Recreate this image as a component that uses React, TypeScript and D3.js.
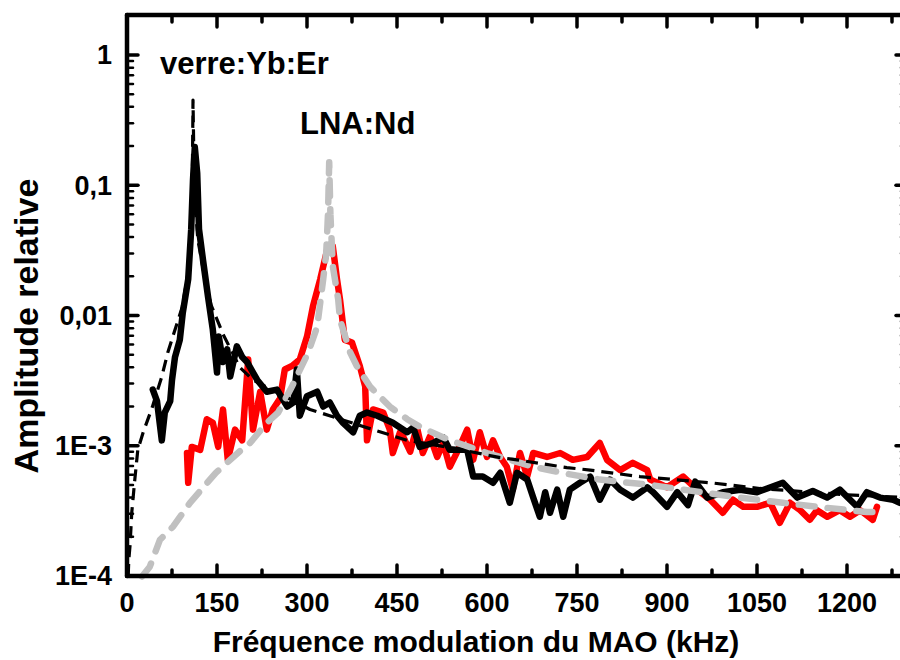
import React from "react";
import * as d3 from "d3";

// Frequencies in kHz, amplitudes relative
const verreMeasured: [number, number][] = [
  [43, 2.7e-3], [50, 2.2e-3], [58, 1.1e-3], [63, 1.8e-3], [72, 2.2e-3], [75, 3.2e-3], [80, 4.8e-3],
  [88, 6.5e-3], [93, 0.0105], [102, 0.019], [107, 0.046], [110, 0.11], [113, 0.197], [117, 0.124],
  [120, 0.046], [127, 0.026], [135, 0.014], [143, 7.8e-3], [150, 3.65e-3], [153, 6.9e-3], [160, 4.4e-3],
  [167, 5.5e-3], [172, 3.4e-3], [183, 5.8e-3], [192, 4.8e-3], [200, 4.4e-3], [217, 3.2e-3], [233, 2.6e-3],
  [250, 2.7e-3], [267, 2.0e-3], [277, 2.15e-3], [283, 3.85e-3], [288, 1.7e-3], [300, 2.4e-3], [317, 2.6e-3],
  [327, 2.0e-3], [338, 2.15e-3], [350, 1.7e-3], [360, 1.5e-3], [377, 1.27e-3], [388, 1.7e-3], [400, 1.8e-3],
  [417, 1.7e-3], [443, 1.5e-3], [467, 1.27e-3], [477, 1.38e-3], [488, 0.98e-3], [510, 1.05e-3], [527, 1.16e-3],
  [538, 0.93e-3], [567, 0.93e-3], [577, 0.58e-3], [593, 0.58e-3], [610, 0.52e-3], [622, 0.62e-3], [638, 0.365e-3],
  [650, 0.62e-3], [667, 0.55e-3], [677, 0.4e-3], [688, 0.285e-3], [697, 0.44e-3], [705, 0.306e-3], [717, 0.46e-3],
  [727, 0.285e-3], [738, 0.46e-3], [755, 0.52e-3], [772, 0.58e-3], [788, 0.385e-3], [805, 0.55e-3], [822, 0.46e-3],
  [843, 0.4e-3], [867, 0.48e-3], [877, 0.44e-3], [900, 0.34e-3], [917, 0.44e-3], [935, 0.35e-3], [947, 0.53e-3],
  [967, 0.4e-3], [993, 0.44e-3], [1022, 0.46e-3], [1050, 0.44e-3], [1067, 0.47e-3], [1093, 0.52e-3], [1117, 0.4e-3],
  [1143, 0.45e-3], [1167, 0.4e-3], [1188, 0.46e-3], [1217, 0.34e-3], [1233, 0.44e-3], [1255, 0.4e-3],
  [1277, 0.385e-3], [1288, 0.365e-3],
];

const verreFit: [number, number][] = [
  [2, 1.0e-4], [3, 1.33e-4], [5, 1.7e-4], [8, 3.1e-4], [13, 5.5e-4], [18, 9.3e-4], [27, 1.27e-3], [42, 1.97e-3],
  [58, 3.4e-3], [68, 5.2e-3], [92, 0.0116], [102, 0.0215], [107, 0.0385], [109, 0.131], [110, 0.451], [111, 0.223],
  [113, 0.078], [118, 0.0385], [127, 0.0226], [140, 0.0121], [160, 7.2e-3], [188, 4.0e-3], [210, 3.2e-3],
  [305, 1.9e-3], [410, 1.33e-3], [467, 1.1e-3], [538, 0.97e-3], [622, 0.81e-3], [650, 0.78e-3], [733, 0.68e-3],
  [772, 0.65e-3], [855, 0.58e-3], [972, 0.52e-3], [1055, 0.47e-3], [1200, 0.42e-3], [1300, 0.4e-3],
];

const lnaMeasured: [number, number][] = [
  [100, 0.88e-3], [102, 0.52e-3], [108, 0.98e-3], [122, 0.93e-3], [133, 1.6e-3], [143, 1.5e-3], [152, 0.98e-3],
  [160, 1.9e-3], [168, 0.78e-3], [180, 1.33e-3], [192, 1.1e-3], [202, 4.6e-3], [210, 1.33e-3], [222, 2.6e-3],
  [233, 1.33e-3], [243, 1.9e-3], [255, 2.3e-3], [263, 3.85e-3], [275, 4.1e-3], [288, 4.6e-3], [300, 6.9e-3],
  [310, 0.0118], [322, 0.019], [335, 0.034], [343, 0.034], [350, 0.019], [355, 0.0133], [363, 6.5e-3],
  [375, 6.2e-3], [388, 4.1e-3], [397, 2.85e-3], [400, 1.1e-3], [410, 1.9e-3], [427, 1.8e-3], [438, 1.33e-3],
  [443, 0.88e-3], [455, 1.27e-3], [460, 1.18e-3], [472, 0.9e-3], [483, 1.4e-3], [493, 0.88e-3], [505, 1.18e-3],
  [517, 0.82e-3], [527, 1.05e-3], [538, 0.69e-3], [552, 0.93e-3], [567, 1.33e-3], [577, 0.78e-3], [588, 1.27e-3],
  [600, 0.82e-3], [610, 1.1e-3], [622, 0.82e-3], [633, 0.69e-3], [643, 0.46e-3], [655, 0.88e-3], [667, 0.58e-3],
  [677, 0.88e-3], [700, 0.82e-3], [722, 0.88e-3], [743, 0.78e-3], [767, 0.82e-3], [788, 1.05e-3], [800, 0.78e-3],
  [822, 0.65e-3], [843, 0.74e-3], [867, 0.65e-3], [872, 0.55e-3], [900, 0.48e-3], [927, 0.58e-3], [950, 0.46e-3],
  [972, 0.385e-3], [993, 0.306e-3], [1010, 0.385e-3], [1027, 0.34e-3], [1050, 0.34e-3], [1072, 0.365e-3],
  [1088, 0.256e-3], [1105, 0.365e-3], [1122, 0.32e-3], [1138, 0.27e-3], [1150, 0.32e-3], [1167, 0.285e-3],
  [1188, 0.32e-3], [1205, 0.285e-3], [1222, 0.32e-3], [1243, 0.27e-3], [1250, 0.34e-3],
];

const lnaFit: [number, number][] = [
  [25, 0.99e-4], [38, 1.18e-4], [55, 1.9e-4], [77, 2.4e-4], [105, 3.65e-4], [148, 0.62e-3], [195, 0.97e-3],
  [205, 1.05e-3], [233, 1.5e-3], [252, 1.8e-3], [275, 2.85e-3], [302, 5.2e-3], [317, 8.2e-3], [327, 0.019],
  [332, 0.03], [335, 0.06], [337, 0.15], [339, 0.06], [343, 0.024], [352, 0.0133], [355, 9.3e-3], [372, 5.2e-3],
  [383, 4.1e-3], [405, 2.85e-3], [438, 2.0e-3], [467, 1.6e-3], [488, 1.4e-3], [538, 1.1e-3], [600, 0.88e-3],
  [677, 0.69e-3], [733, 0.61e-3], [788, 0.55e-3], [872, 0.5e-3], [1022, 0.4e-3], [1093, 0.365e-3],
  [1150, 0.34e-3], [1233, 0.31e-3], [1247, 0.31e-3],
];

const xMajorTicks = [0, 150, 300, 450, 600, 750, 900, 1050, 1200];
const xMinorTicks = [75, 225, 375, 525, 675, 825, 975, 1125, 1275];
const yMajorTicks = [1e-4, 1e-3, 1e-2, 1e-1, 1];
const yTickLabels = ["1E-4", "1E-3", "0,01", "0,1", "1"];
const seriesLabels = ["verre:Yb:Er", "LNA:Nd"];
const xTitle = "Fréquence modulation du MAO (kHz)";
const yTitle = "Amplitude relative";

export default function App() {
  const W = 900, H = 660;
  const left = 127, top = 15, bottom = 576, right = 907;
  const x = d3.scaleLinear().domain([0, 1300]).range([left, right]);
  const y = d3.scaleLog().domain([1e-4, 2.03]).range([bottom, top]);
  const line = d3.line<[number, number]>().x(d => x(d[0])).y(d => y(d[1]));

  const yMinor: number[] = [];
  [1e-4, 1e-3, 1e-2, 1e-1, 1].forEach(b => {
    for (let k = 2; k <= 9; k++) {
      const v = b * k;
      if (v <= 2.03) yMinor.push(v);
    }
  });

  const font = "'Liberation Sans', Arial, Helvetica, sans-serif";
  const tickW = 3.5;

  return (
    <svg width={W} height={H} style={{ position: "absolute", left: 0, top: 0, background: "#fff" }}
      fontFamily={font} fontWeight="bold">
      <rect x={0} y={0} width={W} height={H} fill="#fff" />
      {/* data */}
      <path d={line(lnaMeasured) || ""} fill="none" stroke="#ff0000" strokeWidth={6.5} strokeLinejoin="round" strokeLinecap="round" />
      <path d={line(verreMeasured) || ""} fill="none" stroke="#000" strokeWidth={6.5} strokeLinejoin="round" strokeLinecap="round" />
      <path d={line(lnaFit) || ""} fill="none" stroke="#c0c0c0" strokeWidth={6.5} strokeDasharray="16 13" strokeLinecap="round" strokeLinejoin="round" />
      <path d={line(verreFit) || ""} fill="none" stroke="#000" strokeWidth={3.2} strokeDasharray="12 7" strokeLinejoin="round" />

      {/* axes frame */}
      <g stroke="#000" strokeLinecap="round">
        <line x1={left} y1={top} x2={left} y2={bottom} strokeWidth={4.5} />
        <line x1={left} y1={bottom} x2={right} y2={bottom} strokeWidth={4.5} />
        <line x1={left} y1={top} x2={right} y2={top} strokeWidth={4.5} />
        <line x1={right} y1={top} x2={right} y2={bottom} strokeWidth={4.5} />
        {xMajorTicks.map(t => (
          <g key={"xM" + t}>
            <line x1={x(t)} x2={x(t)} y1={bottom} y2={bottom - 11} strokeWidth={tickW} />
            <line x1={x(t)} x2={x(t)} y1={top} y2={top + 12} strokeWidth={tickW} />
          </g>
        ))}
        {xMinorTicks.map(t => (
          <g key={"xm" + t}>
            <line x1={x(t)} x2={x(t)} y1={bottom} y2={bottom - 6} strokeWidth={tickW} />
            <line x1={x(t)} x2={x(t)} y1={top} y2={top + 7} strokeWidth={tickW} />
          </g>
        ))}
        {yMajorTicks.map(t => (
          <g key={"yM" + t}>
            <line x1={left} x2={left + 11} y1={y(t)} y2={y(t)} strokeWidth={tickW} />
            <line x1={right} x2={right - 11} y1={y(t)} y2={y(t)} strokeWidth={tickW} />
          </g>
        ))}
        {yMinor.map(t => (
          <g key={"ym" + t}>
            <line x1={left} x2={left + 6} y1={y(t)} y2={y(t)} strokeWidth={2.5} />
            <line x1={right} x2={right - 6} y1={y(t)} y2={y(t)} strokeWidth={2.5} />
          </g>
        ))}
      </g>

      {/* tick labels */}
      {xMajorTicks.map(t => (
        <text key={"xl" + t} x={x(t)} y={612} textAnchor="middle" fontSize={27}>{t}</text>
      ))}
      {yMajorTicks.map((t, i) => (
        <text key={"yl" + t} x={112} y={y(t)} dy="0.35em" textAnchor="end" fontSize={27}>{yTickLabels[i]}</text>
      ))}

      {/* titles */}
      <text x={476} y={652} textAnchor="middle" fontSize={30}>{xTitle}</text>
      <text transform={`translate(38,326) rotate(-90)`} textAnchor="middle" fontSize={34}>{yTitle}</text>

      {/* series labels */}
      <text x={160} y={74} fontSize={31}>{seriesLabels[0]}</text>
      <text x={300} y={134} fontSize={31}>{seriesLabels[1]}</text>
    </svg>
  );
}
